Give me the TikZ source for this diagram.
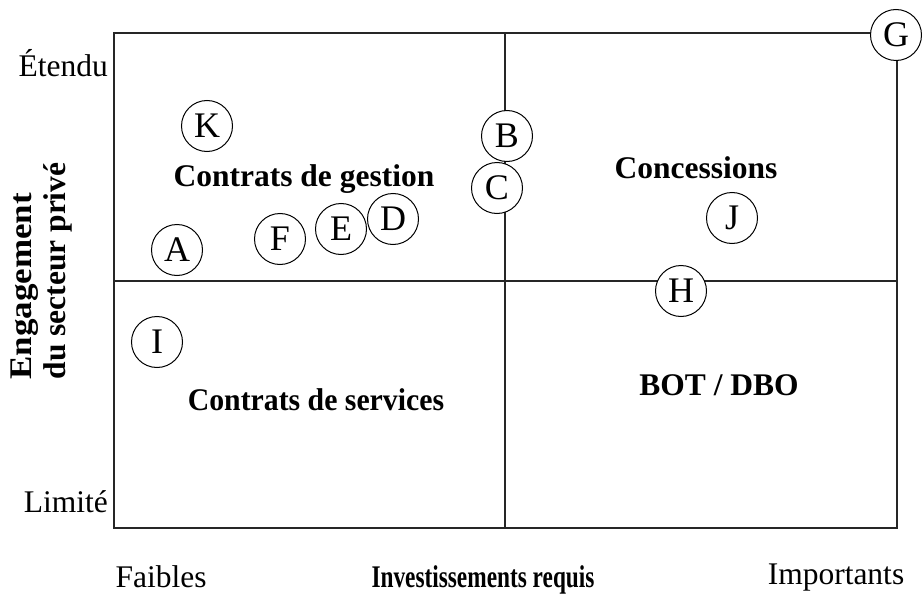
\documentclass[tikz,border=0pt]{standalone}
\usepackage{graphicx}
\usepackage{fontspec}
\setmainfont{Liberation Serif}
\begin{document}
\begin{tikzpicture}[x=1pt,y=-1pt,
  lbl/.style={inner sep=0pt,font=\fontsize{31.5}{34}\selectfont},
  zone/.style={lbl,font=\fontsize{31.5}{34}\selectfont\bfseries},
  actor/.style={circle,draw,line width=1pt,fill=white,minimum size=51pt,inner sep=0pt,
    font=\fontsize{36}{38}\selectfont},
  frame/.style={line width=1.4pt,draw=black!85}]
\useasboundingbox (0,0) rectangle (922,594);
% quadrant frame
\coordinate (tl) at (114,33);
\coordinate (br) at (897,528);
\coordinate (mt) at (505,33);
\coordinate (mb) at (505,528);
\coordinate (ml) at (114,281);
\coordinate (mr) at (897,281);
\draw[frame] (tl) rectangle (br);
\draw[frame] (mt) -- (mb);
\draw[frame] (ml) -- (mr);
% axis labels
\node[lbl,anchor=base east] (hi) at (108,77) {Étendu};
\node[lbl,anchor=base east] (lo) at (108,512) {Limité};
\node[lbl,anchor=base] (lowinv) at (161,587) {Faibles};
\node[zone,anchor=base] (axx) at (483,587) {\scalebox{0.74}[1]{Investissements requis}};
\node[lbl,anchor=base] (highinv) at (836,584) {Importants};
\node[zone,rotate=90,align=left] (axy) at (42,271) {\scalebox{1.11}[1]{Engagement}\\du secteur privé};
% quadrant names
\node[zone,anchor=base] (q1) at (304,186) {Contrats de gestion};
\node[zone,anchor=base] (q2) at (696,178) {Concessions};
\node[zone,anchor=base] (q3) at (316,410) {\scalebox{0.945}[1]{Contrats de services}};
\node[zone,anchor=base] (q4) at (719,395) {BOT / DBO};
% projects
\node[actor] (K) at (207,126) {K};
\node[actor] (B) at (507,136) {B};
\node[actor] (C) at (497,188) {C};
\node[actor] (D) at (393,219) {D};
\node[actor] (E) at (341,229) {E};
\node[actor] (F) at (280,239) {F};
\node[actor] (A) at (177,250) {A};
\node[actor] (J) at (732,218) {J};
\node[actor] (H) at (681,291) {H};
\node[actor] (I) at (157,342) {I};
\node[actor] (G) at (896,35) {G};
\end{tikzpicture}
\end{document}
